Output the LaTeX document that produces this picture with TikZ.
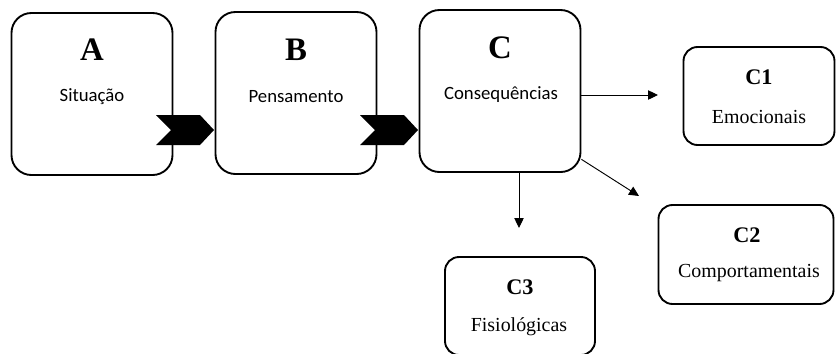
\documentclass[tikz,border=0pt]{standalone}
\usepackage{fontspec}
\setmainfont{Liberation Serif}
\newfontfamily\calibri{Carlito}
\usetikzlibrary{arrows.meta}

\begin{document}
\begin{tikzpicture}[x=0.03cm,y=-0.03cm]
        \tikzstyle{big} = [rectangle, rounded corners=17pt, minimum width=4.83cm, minimum height=4.86cm, draw=black, line width=1.6pt]
        \tikzstyle{small} = [rectangle, rounded corners=12pt, minimum height=2.94cm, draw=black, line width=1.6pt]
        \tikzstyle{letter} = [font=\fontsize{28}{30}\selectfont\bfseries]
        \tikzstyle{sub} = [font=\fontsize{19}{21}\selectfont\bfseries]
        \tikzstyle{sans} = [font=\calibri\fontsize{16}{18}\selectfont]
        \tikzstyle{serif} = [font=\fontsize{17}{19}\selectfont]
        \tikzstyle{arrow} = [line width=0.8pt, -{Triangle[length=8.5pt, width=8pt]}]
        \useasboundingbox (0,0) rectangle (837,353);
        \clip (0,0) rectangle (837,353);
        % main boxes
        \node [big] (A) at (92, 94) {};
        \node [big] (B) at (296, 93) {};
        \node [big] (C) at (500, 91) {};
        \node [letter] (la) at (92, 50) {A};
        \node [sans] (ta) at (92, 97) {Situação};
        \node [letter] (lb) at (296, 50) {B};
        \node [sans] (tb) at (296, 97) {Pensamento};
        \node [letter] (lc) at (500, 48) {C};
        \node [sans] (tc) at (501, 95) {Consequências};
        % consequence boxes
        \node [small, minimum width=4.53cm] (C1) at (759, 96) {};
        \node [small, minimum width=5.25cm, minimum height=2.97cm] (C2) at (746, 254.5) {};
        \node [small, minimum width=4.5cm] (C3) at (520, 306) {};
        \node [sub] (lc1) at (759, 77) {C1};
        \node [serif] (tc1) at (759, 117) {Emocionais};
        \node [sub] (lc2) at (747, 235) {C2};
        \node [serif] (tc2) at (749, 273) {Comportamentais};
        \node [sub] (lc3) at (520, 287) {C3};
        \node [serif] (tc3) at (519, 327) {Fisiológicas};
        % chevrons
        \fill (214,130) -- (200,115) -- (156,115) -- (171,130) -- (156,145) -- (200,145) -- cycle;
        \fill (418,130) -- (404,115) -- (360,115) -- (375,130) -- (360,145) -- (404,145) -- cycle;
        % arrows
        \coordinate (e1) at (658, 95);
        \coordinate (e2) at (639, 196);
        \coordinate (e3) at (519, 228);
        \draw[arrow] (C.east |- e1) to (e1);
        \draw[arrow] (C.-40) to (e2);
        \draw[arrow] (C.south -| e3) to (e3);
    \end{tikzpicture}
\end{document}
